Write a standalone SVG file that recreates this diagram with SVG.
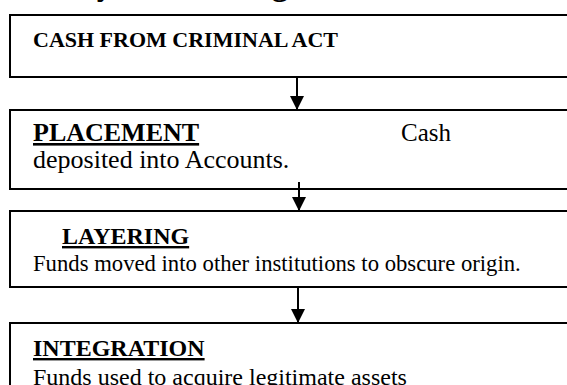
<svg xmlns="http://www.w3.org/2000/svg" width="567" height="385" viewBox="0 0 567 385">
<style>
.box{fill:#fff;stroke:#000;stroke-width:2}
.t{font-family:"Liberation Serif","Times New Roman",serif;font-size:23px;fill:#000}
.b{font-weight:bold}
.u{text-decoration:underline}
.title{font-family:"Liberation Serif","Times New Roman",serif;font-size:33px;font-weight:bold;fill:#000}
.conn{stroke:#000;stroke-width:2;fill:none}
</style>
<defs>
<marker id="arr" markerUnits="userSpaceOnUse" markerWidth="14" markerHeight="14" refX="14" refY="7" orient="auto" viewBox="0 0 14 14">
<path d="M0,0 L14,7 L0,14 z" fill="#000"/>
</marker>
</defs>
<rect width="567" height="385" fill="#fff"/>
<text class="title" x="16" y="-5">Money Laundering</text>
<g id="node-cash">
<rect class="box" x="10" y="15" width="600" height="62"/>
<text class="t b" x="33" y="47" style="font-size:22px">CASH FROM CRIMINAL ACT</text>
</g>
<g id="node-placement">
<rect class="box" x="10" y="110" width="600" height="79"/>
<text class="t b u" x="33" y="141" style="font-size:26px">PLACEMENT</text>
<text class="t" x="401" y="141" style="font-size:25px">Cash</text>
<text class="t" x="33" y="168" style="font-size:26px">deposited into Accounts.</text>
</g>
<g id="node-layering">
<rect class="box" x="10" y="211" width="600" height="76"/>
<text class="t b u" x="62" y="244" style="font-size:24px">LAYERING</text>
<text class="t" x="33" y="271" style="font-size:22.7px">Funds moved into other institutions to obscure origin.</text>
</g>
<g id="node-integration">
<rect class="box" x="10" y="323" width="600" height="100"/>
<text class="t b u" x="33" y="356" style="font-size:24px">INTEGRATION</text>
<text class="t" x="33" y="385" style="font-size:24px">Funds used to acquire legitimate assets</text>
</g>
<g id="connectors">
<line class="conn" x1="297" y1="77" x2="297" y2="110" marker-end="url(#arr)"/>
<line class="conn" x1="299" y1="182" x2="299" y2="211" marker-end="url(#arr)"/>
<line class="conn" x1="298" y1="287" x2="298" y2="323" marker-end="url(#arr)"/>
</g>
</svg>
